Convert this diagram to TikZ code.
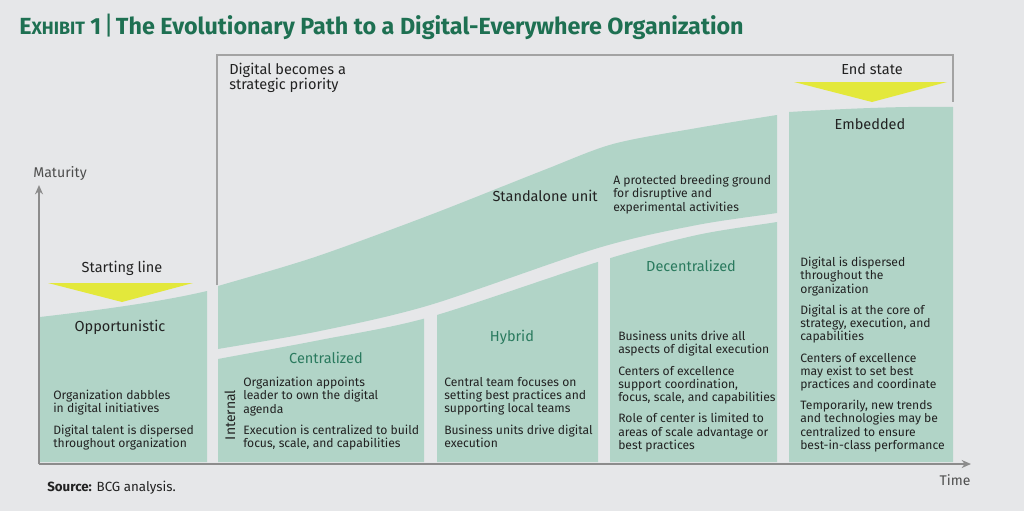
\documentclass[tikz,border=0pt]{standalone}
\usepackage{fontspec}
\setmainfont{Fira Sans}
\usetikzlibrary{arrows.meta}
\definecolor{bgc}{HTML}{E6E7E9}
\definecolor{panel}{HTML}{B1D4C7}
\definecolor{ttl}{HTML}{1E7052}
\definecolor{lbl}{HTML}{2A7A5E}
\definecolor{tri}{HTML}{E3E83B}
\definecolor{axisc}{HTML}{8C8C8C}
\definecolor{brk}{HTML}{A3A3A3}
\definecolor{txt}{HTML}{222222}
\begin{document}
\begin{tikzpicture}[x=0.75pt,y=-0.75pt,
  body/.style={font=\fontsize{9.1}{9.85}\selectfont, align=left, inner sep=0, anchor=north west, text=txt},
  head/.style={font=\fontsize{10.9}{11.3}\selectfont, inner sep=0, text=txt},
  grn/.style={head, text=lbl},
  axisline/.style={axisc, line width=1.3, -{Stealth[length=7,width=6]}},
  bracket/.style={brk, line width=1}]
\fill[bgc] (0,0) rectangle (1024,511);
\useasboundingbox (0,0) rectangle (1024,511);

% title
\node[anchor=base west, inner sep=0, text=ttl] (title) at (19,34)
  {{\fontsize{17.5}{17}\selectfont\bfseries E}{\fontsize{13.4}{17}\selectfont\bfseries XHIBIT}{\fontsize{17.5}{17}\selectfont\bfseries\ 1}\,{\fontsize{19}{17}\selectfont\mdseries|}\,{\fontsize{17.5}{17}\selectfont\bfseries The Evolutionary Path to a Digital-Everywhere Organization}};

% panels
\fill[panel] (40,317) .. controls (100,310) and (160,302) .. (207,291) -- (207,462) -- (40,462) -- cycle;
\begin{scope}
\clip (218,0) rectangle (777,470);
\fill[panel] plot[smooth] coordinates {(200,291) (218,286) (315,257) (430,215) (544,170) (613,144) (697,128) (777,115) (800,112)}
  -- plot[smooth] coordinates {(800,209) (777,213) (697,225) (598,248) (430,305) (320,331) (218,349) (200,352)} -- cycle;
\end{scope}
\begin{scope}
\clip (218,0) rectangle (424,462) (437,0) rectangle (598,462) (610,0) rectangle (777,462);
\fill[panel] plot[smooth] coordinates {(200,363) (218,359) (320,340) (430,317) (604,260) (697,235) (777,222) (800,218)}
  -- (800,462) -- (200,462) -- cycle;
\end{scope}
\fill[panel] (789,112) .. controls (840,109) and (900,106) .. (953,107) -- (953,462) -- (789,462) -- cycle;

% triangles
\fill[tri] (48,283) -- (193,283) -- (122,302) -- cycle;
\fill[tri] (794,82) -- (947,82) -- (872,102) -- cycle;

% bracket
\coordinate (b1) at (217,285);
\coordinate (b2) at (217,55);
\coordinate (b3) at (953,55);
\coordinate (b4) at (953,102);
\draw[bracket] (b1) -- (b2) -- (b3) -- (b4);

% axes
\coordinate (O) at (39,464);
\coordinate (ytop) at (39,185);
\coordinate (xend) at (971,464);
\draw[axisline] (O) -- (ytop);
\draw[axisline] (O) -- (xend);
\node[head, anchor=west, font=\fontsize{10.6}{11}\selectfont, text=txt!80] (mat) at (33,173) {Maturity};
\node[head, font=\fontsize{10.5}{11}\selectfont, text=txt!80] (time) at (955,480) {Time};

% labels
\node[head] (start) at (122,268) {Starting line};
\node[head] (opp) at (120,327) {Opportunistic};
\node[head, align=left, anchor=north west] (dig) at (229,63) {Digital becomes a\\strategic priority};
\node[head] (end) at (872,69) {End state};
\node[head] (emb) at (870,124) {Embedded};
\node[head, anchor=east] (sa) at (598,196) {Standalone unit};
\node[body] (sad) at (613,175) {A protected breeding ground\\for disruptive and\\experimental activities};
\node[grn] (cen) at (326,358) {Centralized};
\node[grn] (hyb) at (512,337) {Hybrid};
\node[grn] (dec) at (691,266) {Decentralized};
\node[head, rotate=90, font=\fontsize{10.5}{11}\selectfont] (int) at (230,415) {Internal};

% body texts
\node[body] (t1) at (53,390) {Organization dabbles\\in digital initiatives\\[6.2pt]Digital talent is dispersed\\throughout organization};
\node[body] (t2) at (243,377) {Organization appoints\\leader to own the digital\\agenda\\[6.2pt]Execution is centralized to build\\focus, scale, and capabilities};
\node[body] (t3) at (444,377) {Central team focuses on\\setting best practices and\\supporting local teams\\[6.2pt]Business units drive digital\\execution};
\node[body] (t4) at (618,331) {Business units drive all\\aspects of digital execution\\[6.2pt]Centers of excellence\\support coordination,\\focus, scale, and capabilities\\[6.2pt]Role of center is limited to\\areas of scale advantage or\\best practices};
\node[body] (t5) at (800,257) {Digital is dispersed\\throughout the\\organization\\[6.2pt]Digital is at the core of\\strategy, execution, and\\capabilities\\[6.2pt]Centers of excellence\\may exist to set best\\practices and coordinate\\[6.2pt]Temporarily, new trends\\and technologies may be\\centralized to ensure\\best-in-class performance};

% source
\node[anchor=west, inner sep=0, font=\fontsize{10}{11}\selectfont, text=txt] (src) at (47,488) {\textbf{Source:} BCG analysis.};
\end{tikzpicture}
\end{document}
